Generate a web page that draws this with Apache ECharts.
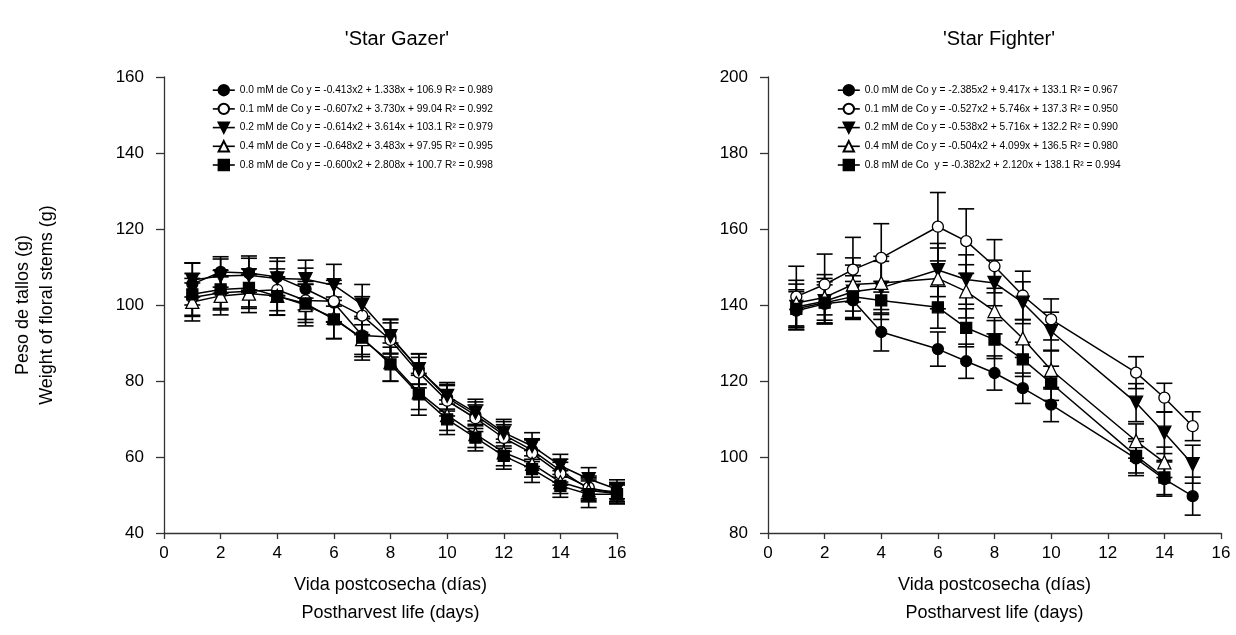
<!DOCTYPE html>
<html>
<head>
<meta charset="utf-8">
<script src="https://cdn.jsdelivr.net/npm/echarts@6/dist/echarts.min.js"></script>
<style>
  html, body { margin: 0; padding: 0; background: #fff; }
  #chart { width: 1236px; height: 635px; }
</style>
</head>
<body>
<div id="chart"></div>
<script>
// doses and fitted equations (legend text)
const doses = ['0.0 mM de Co', '0.1 mM de Co', '0.2 mM de Co', '0.4 mM de Co', '0.8 mM de Co']
const eqGazer = [
  'y = -0.413x2 + 1.338x + 106.9 R² = 0.989',
  'y = -0.607x2 + 3.730x + 99.04 R² = 0.992',
  'y = -0.614x2 + 3.614x + 103.1 R² = 0.979',
  'y = -0.648x2 + 3.483x + 97.95 R² = 0.995',
  'y = -0.600x2 + 2.808x + 100.7 R² = 0.998'
]
const eqFighter = [
  'y = -2.385x2 + 9.417x + 133.1 R² = 0.967',
  'y = -0.527x2 + 5.746x + 137.3 R² = 0.950',
  'y = -0.538x2 + 5.716x + 132.2 R² = 0.990',
  'y = -0.504x2 + 4.099x + 136.5 R² = 0.980',
  ' y = -0.382x2 + 2.120x + 138.1 R² = 0.994'
]

// 'Star Gazer'
const daysGazer = [1, 2, 3, 4, 5, 6, 7, 8, 9, 10, 11, 12, 13, 14, 15, 16]
const gazer00 = [105.5, 108.7, 108.4, 107.4, 104.2, 100.6, 92.0, 91.6, 83.2, 75.6, 71.0, 65.8, 61.8, 56.4, 51.6, 50.8]
const gazer01 = [102.0, 103.2, 103.6, 104.0, 101.2, 101.0, 97.2, 90.8, 82.2, 74.8, 70.2, 65.0, 61.0, 55.6, 52.0, 50.2]
const gazer02 = [106.6, 107.6, 107.8, 107.0, 106.8, 105.2, 100.1, 91.8, 83.1, 76.1, 71.7, 66.4, 62.9, 57.7, 54.2, 51.5]
const gazer04 = [100.8, 102.4, 103.0, 102.4, 100.0, 96.6, 91.0, 85.0, 77.0, 71.0, 66.0, 61.2, 58.2, 53.4, 51.2, 50.4]
const gazer08 = [102.8, 104.1, 104.5, 102.3, 100.4, 96.2, 91.4, 84.4, 76.5, 69.9, 65.1, 60.3, 56.8, 52.4, 50.2, 50.2]
const errGazer00 = [5.5, 4.0, 4.5, 5.0, 5.5, 5.0, 5.0, 4.5, 4.0, 3.5, 3.5, 3.5, 3.0, 3.0, 3.0, 2.5]
const errGazer01 = [5.0, 4.5, 4.5, 5.5, 5.0, 5.5, 5.0, 4.5, 4.0, 4.0, 3.5, 3.5, 3.5, 3.0, 3.0, 2.5]
const errGazer02 = [4.5, 4.5, 4.5, 4.5, 5.0, 5.5, 5.3, 4.5, 4.0, 3.5, 3.5, 3.5, 3.5, 3.0, 3.0, 2.5]
const errGazer04 = [5.0, 5.0, 5.0, 5.0, 5.5, 5.5, 5.5, 5.0, 4.5, 4.0, 3.5, 3.5, 3.5, 3.0, 3.0, 2.5]
const errGazer08 = [5.5, 5.0, 5.0, 5.0, 5.0, 5.0, 5.0, 4.5, 5.5, 4.0, 3.5, 3.5, 3.5, 3.0, 3.5, 2.5]

// 'Star Fighter'
const daysFighter = [1, 2, 3, 4, 6, 7, 8, 9, 10, 13, 14, 15]
const fighter00 = [138.5, 140.3, 141.2, 132.9, 128.4, 125.2, 122.1, 118.1, 113.8, 99.6, 94.2, 89.7]
const fighter01 = [142.2, 145.4, 149.3, 152.4, 160.6, 156.8, 150.2, 142.5, 136.2, 122.2, 115.6, 108.1]
const fighter02 = [139.5, 141.0, 143.5, 144.5, 149.2, 146.7, 145.8, 140.6, 133.1, 114.3, 106.4, 98.1]
const fighter04 = [140.5, 142.0, 145.4, 145.8, 147.0, 143.6, 138.4, 131.2, 122.9, 104.2, 98.6, null]
const fighter08 = [139.0, 140.6, 142.2, 141.2, 139.4, 134.0, 130.9, 125.7, 119.4, 100.3, 94.6, null]
const errFighter00 = [5.0, 5.0, 5.0, 5.0, 4.5, 4.5, 4.5, 4.0, 4.5, 4.5, 4.5, 5.0]
const errFighter01 = [8.0, 8.0, 8.5, 9.0, 9.0, 8.5, 7.0, 6.4, 5.4, 4.2, 3.8, 3.8]
const errFighter02 = [6.0, 6.0, 7.0, 7.0, 7.0, 6.5, 6.0, 5.5, 5.0, 5.0, 5.5, 5.0]
const errFighter04 = [6.0, 6.0, 7.0, 7.0, 8.0, 7.0, 6.0, 5.0, 5.0, 4.5, 4.0, null]
const errFighter08 = [5.0, 5.5, 5.5, 5.0, 5.5, 5.0, 5.0, 4.5, 4.5, 4.5, 4.5, null]

const FONT = 'Liberation Sans, Arial, sans-serif'
const markers = [
  { symbol: 'circle', size: 11, fill: '#000', rotate: 0 },
  { symbol: 'circle', size: 11, fill: '#fff', rotate: 0 },
  { symbol: 'triangle', size: 13, fill: '#000', rotate: 180 },
  { symbol: 'triangle', size: 13, fill: '#fff', rotate: 0 },
  { symbol: 'rect', size: 11, fill: '#000', rotate: 0 }
]

function errRender (params, api) {
  const x = api.value(0)
  const lo = api.coord([x, api.value(1)])
  const hi = api.coord([x, api.value(2)])
  const half = 8
  const style = { stroke: '#000', lineWidth: 1.6 }
  return {
    type: 'group',
    children: [
      { type: 'line', shape: { x1: lo[0], y1: lo[1], x2: hi[0], y2: hi[1] }, style: style },
      { type: 'line', shape: { x1: lo[0] - half, y1: lo[1], x2: lo[0] + half, y2: lo[1] }, style: style },
      { type: 'line', shape: { x1: hi[0] - half, y1: hi[1], x2: hi[0] + half, y2: hi[1] }, style: style }
    ]
  }
}

function buildSeries (idx, names, days, values, errors) {
  const out = []
  values.forEach(function (vals, k) {
    const errData = []
    days.forEach(function (d, i) {
      if (vals[i] != null) errData.push([d, vals[i] - errors[k][i], vals[i] + errors[k][i]])
    })
    out.push({
      type: 'custom',
      name: 'err' + idx + '_' + k,
      xAxisIndex: idx,
      yAxisIndex: idx,
      renderItem: errRender,
      encode: { x: 0, y: [1, 2] },
      data: errData,
      silent: true,
      z: 1
    })
    out.push({
      type: 'line',
      name: names[k],
      xAxisIndex: idx,
      yAxisIndex: idx,
      data: days.map(function (d, i) { return [d, vals[i]] }).filter(function (p) { return p[1] != null }),
      symbol: markers[k].symbol,
      symbolSize: markers[k].size,
      symbolRotate: markers[k].rotate,
      showAllSymbol: true,
      lineStyle: { color: '#000', width: 1.5 },
      itemStyle: { color: markers[k].fill, borderColor: '#000', borderWidth: 1.3 },
      z: 3,
      animation: false
    })
  })
  return out
}

const namesGazer = doses.map(function (d, i) { return d + ' ' + eqGazer[i] })
const namesFighter = doses.map(function (d, i) { return d + ' ' + eqFighter[i] })

function xAxisOf (idx) {
  return {
    type: 'value',
    gridIndex: idx,
    min: 0,
    max: 16,
    interval: 2,
    name: 'Vida postcosecha (días)\nPostharvest life (days)',
    nameLocation: 'middle',
    nameGap: 38,
    nameTextStyle: { fontFamily: FONT, fontSize: 18, color: '#000', lineHeight: 28 },
    axisLine: { show: true, lineStyle: { color: '#333', width: 1.3 } },
    axisTick: { show: true, inside: false, length: 6, lineStyle: { color: '#333', width: 1.3 } },
    axisLabel: { fontFamily: FONT, fontSize: 17, color: '#000', margin: 12 },
    splitLine: { show: false }
  }
}

function yAxisOf (idx, min, max, name) {
  return {
    type: 'value',
    gridIndex: idx,
    min: min,
    max: max,
    interval: 20,
    name: name,
    nameLocation: 'middle',
    nameGap: 105,
    nameTextStyle: { fontFamily: FONT, fontSize: 18, color: '#000', lineHeight: 24 },
    axisLine: { show: true, lineStyle: { color: '#333', width: 1.3 } },
    axisTick: { show: true, inside: false, length: 8, lineStyle: { color: '#333', width: 1.3 } },
    axisLabel: { fontFamily: FONT, fontSize: 17, color: '#000', margin: 20 },
    splitLine: { show: false }
  }
}

function legendOf (left, names) {
  return {
    data: names,
    left: left,
    top: 79,
    orient: 'vertical',
    itemWidth: 22,
    itemHeight: 13,
    itemGap: 6.3,
    selectedMode: false,
    lineStyle: { width: 1.6 },
    textStyle: { fontFamily: FONT, fontSize: 10.2, color: '#000' }
  }
}

const chart = echarts.init(document.getElementById('chart'))
chart.setOption({
  animation: false,
  backgroundColor: '#fff',
  title: [
    { text: "'Star Gazer'", left: 392, top: 24, textAlign: 'center', textStyle: { fontFamily: FONT, fontSize: 20, fontWeight: 'normal', color: '#000' } },
    { text: "'Star Fighter'", left: 994, top: 24, textAlign: 'center', textStyle: { fontFamily: FONT, fontSize: 20, fontWeight: 'normal', color: '#000' } }
  ],
  legend: [
    legendOf(207, namesGazer),
    legendOf(832, namesFighter)
  ],
  grid: [
    { left: 164, top: 77, width: 453, height: 456 },
    { left: 768, top: 77, width: 453, height: 456 }
  ],
  xAxis: [xAxisOf(0), xAxisOf(1)],
  yAxis: [
    yAxisOf(0, 40, 160, 'Peso de tallos (g)\nWeight of floral stems (g)'),
    yAxisOf(1, 80, 200, '')
  ],
  series: buildSeries(0, namesGazer, daysGazer, [gazer00, gazer01, gazer02, gazer04, gazer08],
    [errGazer00, errGazer01, errGazer02, errGazer04, errGazer08])
    .concat(buildSeries(1, namesFighter, daysFighter, [fighter00, fighter01, fighter02, fighter04, fighter08],
      [errFighter00, errFighter01, errFighter02, errFighter04, errFighter08]))
})
</script>
</body>
</html>
